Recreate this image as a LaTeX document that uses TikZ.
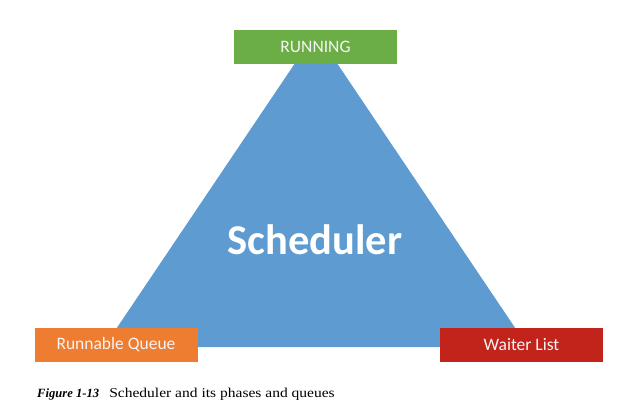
\documentclass[tikz,border=0pt]{standalone}
\usepackage{fontspec}
\setmainfont{Liberation Serif}
\newfontfamily\calib{Carlito}
\newfontfamily\capwide[FakeStretch=1.15]{Liberation Serif}
\definecolor{runGreen}{HTML}{6AAE45}
\definecolor{queueOrange}{HTML}{EE7D31}
\definecolor{waitRed}{HTML}{C2231B}
\definecolor{schedBlue}{HTML}{5E9BD0}
\tikzset{
  phase/.style={minimum width=163pt,minimum height=34pt,inner sep=0pt,
    text=white!92!gray,font=\calib\fontsize{17.5}{17.5}\selectfont}
}

\begin{document}
\begin{tikzpicture}[x=1pt,y=-1pt]
\useasboundingbox (0,0) rectangle (620,405);

% triangle
\fill[schedBlue] (316,32) -- (528,347) -- (104,347) -- cycle;

\node[phase,fill=runGreen] (running) at (315.5,47) {RUNNING};
\node[phase,fill=queueOrange] (runnable) at (116,344.5) {Runnable Queue};
\node[phase,fill=waitRed] (waiter) at (521.5,344.5) {Waiter List};

\node[text=white,font=\calib\bfseries\fontsize{42.5}{42.5}\selectfont] (sched) at (315,240) {Scheduler};

\node[anchor=base west,inner sep=0pt,font=\fontsize{13.5}{15}\selectfont] (caption) at (37,397)
  {{\fontsize{12.6}{15}\selectfont\textbf{\textit{Figure 1-13}}}\hspace{0.75em}{\capwide Scheduler and its phases and queues}};
\end{tikzpicture}
\end{document}
